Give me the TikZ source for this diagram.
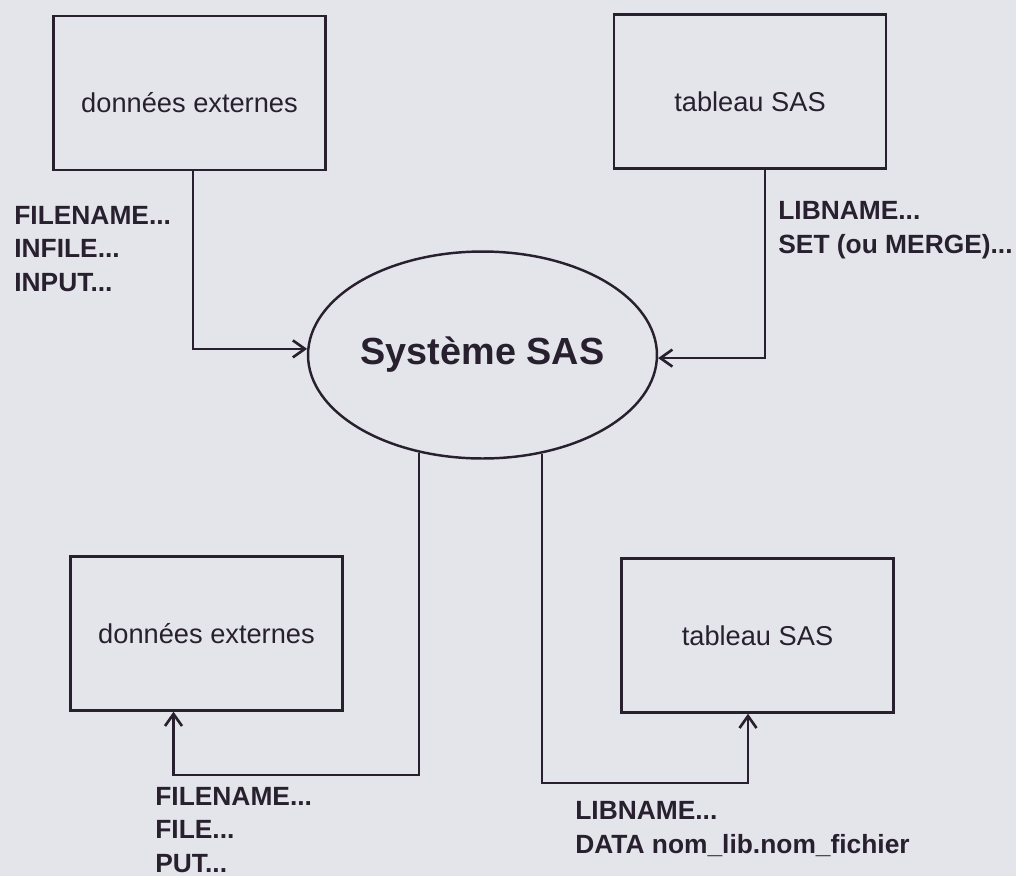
\documentclass[tikz,border=0pt]{standalone}
\usepackage{fontspec}
\setmainfont{Liberation Sans}
\usepackage{xcolor}
\usetikzlibrary{shapes.geometric,positioning,arrows.meta,calc}
\definecolor{fond}{RGB}{228,229,235}
\definecolor{encre}{RGB}{40,32,46}
\tikzset{
	boite/.style={draw=encre,line width=1.4pt,minimum width=5.44cm,minimum height=3.08cm,
		inner sep=0pt,text=encre,font=\fontsize{15.5}{19}\selectfont},
	haut/.style={text height=22.6pt},
	lib/.style={inner sep=0pt,align=left,text=encre,font=\bfseries\fontsize{15}{19.3}\selectfont},
	fl/.style={draw=encre,line width=1.4pt,-{Straight Barb[length=2.4mm,width=3.4mm,line width=1.5pt]}}
}
\begin{document}
\begin{tikzpicture}[x=0.02cm,y=-0.02cm]
\fill[fond] (0,0) rectangle (1016,876);
\useasboundingbox (0,0) rectangle (1016,876);

%Systeme central
\node[draw=encre,line width=1.4pt,ellipse,minimum width=6.98cm,minimum height=4.14cm,inner sep=0pt,
	text=encre,font=\bfseries\fontsize{21.5}{26}\selectfont] (sas) at (482.5,355) {Système SAS};

%Boites
\node[boite,haut] (tl) at (189.5,93) {données externes};
\node[boite,haut] (tr) at (750,91.5) {tableau SAS};
\node[boite] (bl) at (206.5,633.5) {données externes};
\node[boite] (br) at (757.5,635.5) {tableau SAS};

%Liaisons
\draw[fl] ([xshift=0.07cm]tl.south) |- (sas.178.4);
\draw[fl] ([xshift=0.3cm]tr.south) |- (sas.359.3);
\draw[fl] (sas.237) -- (sas.237 |- 0,775) -| ([xshift=-0.66cm]bl.south);
\draw[fl] (sas.301.5) -- (sas.301.5 |- 0,783) -| ([xshift=-0.19cm]br.south);

%Instructions
\node[lib,anchor=west] (itl) at (14,249) {FILENAME...\\INFILE...\\INPUT...};
\node[lib,anchor=west] (itr) at (778,230) {LIBNAME...\\SET (ou MERGE)...};
\node[lib,anchor=west] (ibl) at (155,830) {FILENAME...\\FILE...\\PUT...};
\node[lib,anchor=west] (ibr) at (575,829) {LIBNAME...\\DATA nom\_lib.nom\_fichier};
\end{tikzpicture}
\end{document}
